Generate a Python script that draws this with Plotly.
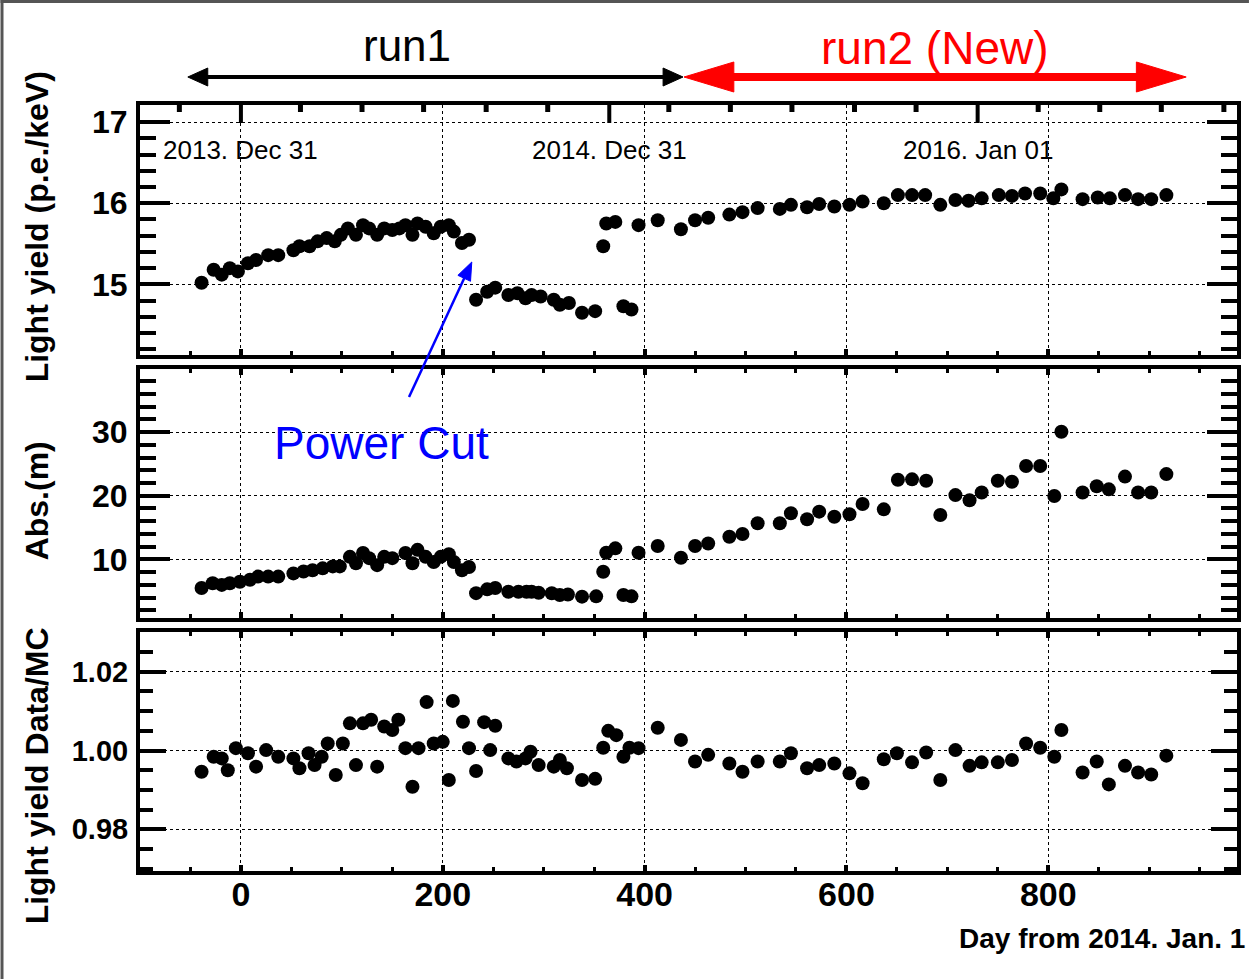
import numpy as np
import plotly.graph_objects as go

# ---------------- data ----------------
day_ly = [-39, -27, -19, -11, -3, 7, 15, 27, 37, 52, 58, 68, 76, 85, 93, 99, 106, 114, 121, 127,
          135, 142, 150, 157, 163, 170, 175, 183, 191, 198, 206, 211, 219, 226,
          233, 244, 252, 265, 274, 282, 288, 297, 310, 316, 325, 338, 351,
          359, 362, 371, 379, 387, 394, 413, 436, 450, 463, 484, 497, 512, 534, 545, 561, 573,
          588, 603, 616, 637, 651, 665, 678, 693, 708, 721, 734, 751, 764, 777, 792, 805, 813,
          834, 849, 861, 876, 889, 902, 917]
light_yield = [15.02, 15.18, 15.12, 15.20, 15.16, 15.26, 15.30, 15.36, 15.36, 15.42, 15.47, 15.47,
               15.53, 15.57, 15.53, 15.61, 15.69, 15.61, 15.73, 15.69, 15.61, 15.69, 15.67, 15.69,
               15.73, 15.61, 15.75, 15.71, 15.63, 15.71, 15.73, 15.65, 15.51, 15.55,
               14.81, 14.91, 14.96, 14.87, 14.89, 14.83, 14.87, 14.85, 14.81, 14.75, 14.77, 14.65, 14.67,
               15.47, 15.75, 15.77, 14.73, 14.69, 15.73, 15.79, 15.68, 15.79, 15.82, 15.86, 15.89,
               15.94, 15.93, 15.98, 15.95, 15.99, 15.96, 15.98, 16.02, 16.00, 16.10, 16.10, 16.10,
               15.98, 16.04, 16.03, 16.06, 16.10, 16.09, 16.12, 16.12, 16.06, 16.17, 16.05, 16.07,
               16.06, 16.10, 16.05, 16.05, 16.10]

day_abs = [-39, -28, -19, -11, -1, 9, 17, 27, 37, 52, 62, 71, 81, 91, 98, 108, 114, 121, 127, 135,
           142, 150, 163, 170, 175, 183, 191, 198, 206, 211, 219, 226,
           233, 244, 252, 265, 275, 283, 288, 295, 308, 316, 324, 338, 352,
           359, 362, 371, 379, 387, 394, 413, 436, 450, 463, 484, 497, 512, 534, 545, 561, 573,
           588, 603, 616, 637, 651, 665, 679, 693, 708, 722, 734, 750, 764, 778, 792, 806, 813,
           834, 848, 860, 876, 889, 902, 917]
absorption = [5.5, 6.25, 6.0, 6.25, 6.5, 6.8, 7.3, 7.3, 7.3, 7.8, 8.1, 8.3, 8.6, 8.9, 8.9, 10.4,
              9.4, 11.0, 10.2, 9.1, 10.4, 10.2, 11.0, 9.4, 11.5, 10.4, 9.6, 10.4, 10.8, 9.6, 8.3, 8.8,
              4.7, 5.3, 5.5, 4.93, 4.93, 4.93, 4.93, 4.77, 4.68, 4.41, 4.5, 4.15, 4.2,
              8.07, 11.05, 11.74, 4.41, 4.2, 11.05, 12.1, 10.27, 12.1, 12.5, 13.56, 13.99, 15.67,
              15.67, 17.24, 16.3, 17.5, 16.7, 17.1, 18.7, 17.86, 22.5, 22.57, 22.36, 16.97, 20.1,
              19.3, 20.5, 22.36, 22.2, 24.66, 24.66, 19.95, 30.05, 20.5, 21.5, 21.0, 23.0, 20.5,
              20.5, 23.4]

day_ratio = [-39, -27, -19, -13, -5, 7, 15, 25, 37, 52, 58, 67, 73, 80, 86, 94, 101, 108, 114, 121,
             129, 135, 142, 150, 156, 163, 170, 176, 184, 191, 200, 206, 210, 220, 226,
             233, 241, 247, 252, 265, 273, 282, 287, 295, 310, 316, 323, 338, 351,
             359, 364, 372, 379, 385, 394, 413, 436, 450, 463, 484, 497, 512, 534, 545, 561, 573,
             588, 603, 616, 637, 650, 665, 679, 693, 708, 722, 734, 750, 764, 778, 792, 806, 813,
             834, 848, 860, 876, 889, 902, 917]
ratio = [0.9946, 0.9984, 0.9980, 0.9950, 1.0006, 0.9993, 0.9959, 1.0001, 0.9984, 0.9980, 0.9955,
         0.9993, 0.9963, 0.9984, 1.0018, 0.9938, 1.0018, 1.0069, 0.9963, 1.0069, 1.0078, 0.9959,
         1.0061, 1.0052, 1.0078, 1.0006, 0.9908, 1.0006, 1.0123, 1.0018, 1.0022, 0.9925, 1.0126,
         1.0073, 1.0006, 0.9948, 1.0072, 1.0001, 1.0063, 0.9980, 0.9972, 0.9980, 0.9997, 0.9963,
         0.9959, 0.9976, 0.9955, 0.9925, 0.9928, 1.0007, 1.0050, 1.0039, 0.9984, 1.0007, 1.0006,
         1.0058, 1.0027, 0.9972, 0.9989, 0.9967, 0.9946, 0.9972, 0.9972, 0.9993, 0.9955, 0.9963,
         0.9967, 0.9942, 0.9917, 0.9978, 0.9993, 0.9970, 0.9995, 0.9925, 1.0001, 0.9961, 0.9970,
         0.9970, 0.9976, 1.0018, 1.0007, 0.9984, 1.0052, 0.9944, 0.9972, 0.9914, 0.9961, 0.9944,
         0.9939, 0.9987]

# calendar ticks on the top frame (days from 2014 Jan 1, every two months)
month_ticks = [-61, 0, 59, 120, 181, 243, 304, 365, 424, 485, 546, 608, 669, 730, 790, 851, 912, 974]
year_ticks = [0, 365, 730]
year_labels = ["2013. Dec 31", "2014. Dec 31", "2016. Jan 01"]

y_titles = ["Light yield (p.e./keV)", "Abs.(m)", "Light yield Data/MC"]
x_title = "Day from 2014. Jan. 1"

# ---------------- layout geometry ----------------
W, H = 1253, 979
ML, MR, MT, MB = 140, 12, 105, 108
PW, PH = W - ML - MR, H - MT - MB
FONT = "Liberation Sans, Arial, Helvetica, sans-serif"


def px(xp):
    return (xp - ML) / PW


def py(yp):
    return (H - MB - yp) / PH


dom_top = [py(355), 1.0]
dom_mid = [py(618), py(369)]
dom_bot = [0.0, py(632)]

fig = go.Figure()
mk = dict(color="black", size=14)
fig.add_trace(go.Scatter(x=day_ly, y=light_yield, mode="markers", marker=mk,
                         xaxis="x3", yaxis="y3", showlegend=False))
fig.add_trace(go.Scatter(x=day_abs, y=absorption, mode="markers", marker=mk,
                         xaxis="x2", yaxis="y2", showlegend=False))
fig.add_trace(go.Scatter(x=day_ratio, y=ratio, mode="markers", marker=mk,
                         xaxis="x", yaxis="y", showlegend=False))

xrange_ = [-100, 987]
grid = dict(showgrid=True, gridcolor="black", gridwidth=1, griddash="3px,3px")


def xax(anchor, labels, mirror):
    d = dict(anchor=anchor, domain=[0, 1], range=xrange_, tickmode="linear", tick0=0, dtick=200,
             ticks="inside", ticklen=6, tickwidth=4, tickcolor="black",
             showline=True, linewidth=4, linecolor="black", mirror=mirror,
             zeroline=False, showticklabels=labels, ticklabelstandoff=-10,
             tickfont=dict(family=FONT, size=34, color="black", weight="bold"),
             minor=dict(dtick=50, tick0=0, ticks="inside", ticklen=4, tickwidth=3,
                        tickcolor="black", showgrid=False),
             **grid)
    return d


def yax(anchor, domain, rng, dtick, mdtick, fmt, size, tl, mtl):
    return dict(anchor=anchor, domain=domain, range=rng, tickmode="linear", tick0=0, dtick=dtick,
                ticks="inside", ticklen=tl, tickwidth=4, tickcolor="black",
                showline=True, linewidth=4, linecolor="black", mirror="ticks",
                zeroline=False, tickformat=fmt, ticklabelstandoff=2,
                tickfont=dict(family=FONT, size=size, color="black", weight="bold"),
                minor=dict(dtick=mdtick, tick0=0, ticks="inside", ticklen=mtl, tickwidth=4,
                           tickcolor="black", showgrid=False),
                **grid)


fig.update_layout(
    width=W, height=H,
    margin=dict(l=ML, r=MR, t=MT, b=MB),
    paper_bgcolor="white", plot_bgcolor="white",
    xaxis=xax("y", True, "ticks"),
    xaxis2=dict(xax("y2", False, "ticks"), matches="x"),
    xaxis3=dict(xax("y3", False, True), matches="x"),
    yaxis=yax("x", dom_bot, [0.9694, 1.0301], 0.02, 0.005, ".2f", 29, 26, 13),
    yaxis2=yax("x2", dom_mid, [0.8, 39.9], 10, 2, "d", 32, 30, 16),
    yaxis3=yax("x3", dom_top, [14.13, 17.21], 1, 0.2, "d", 32, 30, 16),
)

shapes = []
# calendar ticks on the top frame of the upper panel
for d in month_ticks:
    long_ = d in year_ticks
    L = 18 if long_ else 7
    shapes.append(dict(type="line", xref="x3", yref="y3 domain", x0=d, x1=d,
                       y0=1, y1=1 - L / (355 - 105), line=dict(color="black", width=4 if long_ else 5)))


def tri(tip, base_c, half):
    tip = np.array(tip, float)
    base_c = np.array(base_c, float)
    v = tip - base_c
    n = np.array([-v[1], v[0]]) / np.hypot(*v) * half
    pts = [tip, base_c + n, base_c - n]
    path = "M " + " L ".join(f"{px(p[0]):.5f},{py(p[1]):.5f}" for p in pts) + " Z"
    return path


def arrow(p0, p1, color, lw, hl, hw, both):
    p0 = np.array(p0, float)
    p1 = np.array(p1, float)
    u = (p1 - p0) / np.hypot(*(p1 - p0))
    a = p0 + u * hl * 0.8 if both else p0
    b = p1 - u * hl * 0.8
    out = [dict(type="line", xref="paper", yref="paper", x0=px(a[0]), y0=py(a[1]),
                x1=px(b[0]), y1=py(b[1]), line=dict(color=color, width=lw))]
    out.append(dict(type="path", xref="paper", yref="paper", path=tri(p1, p1 - u * hl, hw),
                    fillcolor=color, line=dict(color=color, width=1)))
    if both:
        out.append(dict(type="path", xref="paper", yref="paper", path=tri(p0, p0 + u * hl, hw),
                        fillcolor=color, line=dict(color=color, width=1)))
    return out


shapes += arrow((188, 77), (685, 77), "black", 4, 20, 9, True)
shapes += arrow((686, 77), (1190, 77), "#ff0000", 8, 50, 15, True)
shapes += arrow((410, 397), (473, 262), "#0000ff", 2.5, 18, 7, False)

# screenshot border (top / left)
shapes.append(dict(type="rect", xref="paper", yref="paper", x0=px(0), x1=px(W), y0=py(3), y1=py(0),
                   fillcolor="#555555", line=dict(width=0), layer="above"))
shapes.append(dict(type="rect", xref="paper", yref="paper", x0=px(0), x1=px(3), y0=py(H), y1=py(0),
                   fillcolor="#555555", line=dict(width=0), layer="above"))
fig.update_layout(shapes=shapes)

ann = []
for d, t in zip(year_ticks, year_labels):
    ann.append(dict(x=d, y=py(150), xref="x3", yref="paper", text=t, showarrow=False,
                    xanchor="center", yanchor="middle",
                    font=dict(family=FONT, size=26, color="black")))
ann.append(dict(x=px(408), y=py(45), xref="paper", yref="paper", text="run1", showarrow=False,
                xanchor="center", yanchor="middle", font=dict(family=FONT, size=44, color="black")))
ann.append(dict(x=px(938), y=py(48), xref="paper", yref="paper", text="run2 (New)", showarrow=False,
                xanchor="center", yanchor="middle", font=dict(family=FONT, size=46, color="#ff0000")))
ann.append(dict(x=px(382), y=py(443), xref="paper", yref="paper", text="Power Cut", showarrow=False,
                xanchor="center", yanchor="middle", font=dict(family=FONT, size=46, color="#0000ff")))
ann.append(dict(x=px(1251), y=py(938), xref="paper", yref="paper", text=x_title, showarrow=False,
                xanchor="right", yanchor="middle",
                font=dict(family=FONT, size=28, color="black", weight="bold")))
for t, yc in zip(y_titles, [227, 501, 776]):
    ann.append(dict(x=px(37), y=py(yc), xref="paper", yref="paper", text=t, showarrow=False,
                    textangle=-90, xanchor="center", yanchor="middle",
                    font=dict(family=FONT, size=32, color="black", weight="bold")))
fig.update_layout(annotations=ann)

fig.write_html("out.html", config={"displayModeBar": False},
               post_script="document.body.style.margin='0';document.body.style.overflow='hidden';")
